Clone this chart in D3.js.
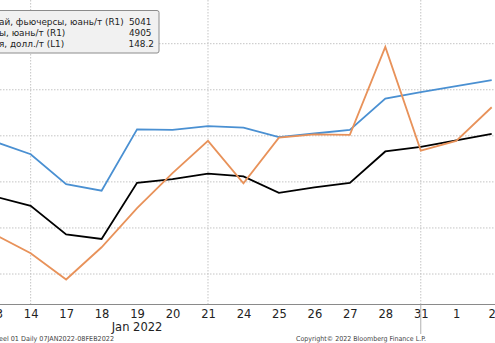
<!DOCTYPE html>
<html><head><meta charset="utf-8">
<script src="https://cdn.jsdelivr.net/npm/d3@7"></script>
<style>body{margin:0;background:#fff;overflow:hidden}svg{display:block}</style>
</head><body><svg id="c" width="495" height="343"></svg>
<script>
const dates = ["13","14","17","18","19","20","21","24","25","26","27","28","31","1","2"];
const futures = [4787,4760,4695,4681,4814,4813,4821,4818,4797,4805,4813,4881,4895,4908,4921];
const spot = [4585,4545,4488,4558,4643,4719,4789,4697,4796,4803,4802,4993,4768,4789,4862];
const ore = [133.4,132.4,129.3,128.8,134.9,135.3,135.9,135.6,133.8,134.4,134.9,138.3,138.8,139.5,140.2];
const rightTicks = [4500,4600,4700,4800,4900,5000];
const gridDates = ["14","21","31"];
const legendLabels = ["ай, фьючерсы, юань/т (R1)","ы, юань/т (R1)","я, долл./т (L1)"];
const legendValues = ["5041","4905","148.2"];

const svg = d3.select("#c");
const x = d3.scalePoint().domain(dates).range([-4.8, 491.7]);
const yR = d3.scaleLinear().domain([4500,5000]).range([274,43.7]);
const yL = d3.scaleLinear().domain([125,150]).range([274,43.7]);
const axisY = 304.5;
const F = "'DejaVu Sans', sans-serif";
const valueRight = [151.5, 151.5, 154];

svg.append("g").selectAll("line").data(rightTicks).join("line")
  .attr("x1",0).attr("x2",495).attr("y1",d=>yR(d)).attr("y2",d=>yR(d))
  .attr("stroke","#c4c4c4").attr("stroke-width",1).attr("stroke-dasharray","1.5,1.5");
svg.append("g").selectAll("line").data(gridDates).join("line")
  .attr("x1",d=>x(d)).attr("x2",d=>x(d)).attr("y1",0).attr("y2",axisY)
  .attr("stroke","#c4c4c4").attr("stroke-width",1).attr("stroke-dasharray","1.5,1.5");

const xAxis = d3.axisBottom(x).tickSize(0).tickPadding(3);
const ax = svg.append("g").attr("transform",`translate(0,${axisY})`).call(xAxis);
ax.select(".domain").attr("stroke","#8a8a8a").attr("d","M0,0H495");
ax.selectAll("text").attr("font-family",F).attr("font-size",11.5).attr("fill","#222").attr("dy","0.95em");
svg.append("line").attr("x1",x("31")).attr("x2",x("31")).attr("y1",axisY).attr("y2",334)
  .attr("stroke","#b0b0b0").attr("stroke-width",1);
svg.append("text").attr("x",x("19")).attr("y",331).attr("text-anchor","middle")
  .attr("font-family",F).attr("font-size",11.5).attr("fill","#222").text("Jan 2022");
svg.append("text").attr("x",-1).attr("y",341).attr("font-family",F)
  .attr("font-size",6.8).attr("fill","#444").attr("textLength",115).attr("lengthAdjust","spacingAndGlyphs")
  .text("eel 01  Daily 07JAN2022-08FEB2022");
svg.append("text").attr("x",296).attr("y",341).attr("font-family",F)
  .attr("font-size",6.8).attr("fill","#444").attr("textLength",130).attr("lengthAdjust","spacingAndGlyphs")
  .text("Copyright© 2022 Bloomberg Finance L.P.");

const mk = (arr, y) => d3.line().x((d,i)=>x(dates[i])).y(d=>y(d))(arr);
svg.append("path").attr("d",mk(futures,yR)).attr("fill","none").attr("stroke","#4a90d2").attr("stroke-width",1.8);
svg.append("path").attr("d",mk(ore,yL)).attr("fill","none").attr("stroke","#000").attr("stroke-width",1.8);
svg.append("path").attr("d",mk(spot,yR)).attr("fill","none").attr("stroke","#e8925a").attr("stroke-width",1.8);

const lg = svg.append("g");
lg.append("rect").attr("x",-5).attr("y",10.5).attr("width",164).attr("height",42.5).attr("rx",2)
  .attr("fill","#f1f1f1").attr("stroke","#8c8c8c").attr("stroke-width",1);
legendLabels.forEach((t,i)=>{
  lg.append("text").attr("x",-1).attr("y",25+i*11).attr("font-family",F)
    .attr("font-size",8.9).attr("fill","#222").text(t);
  lg.append("text").attr("x",valueRight[i]).attr("y",25+i*11).attr("text-anchor","end").attr("font-family",F)
    .attr("font-size",8.9).attr("fill","#222").text(legendValues[i]);
});
</script></body></html>
